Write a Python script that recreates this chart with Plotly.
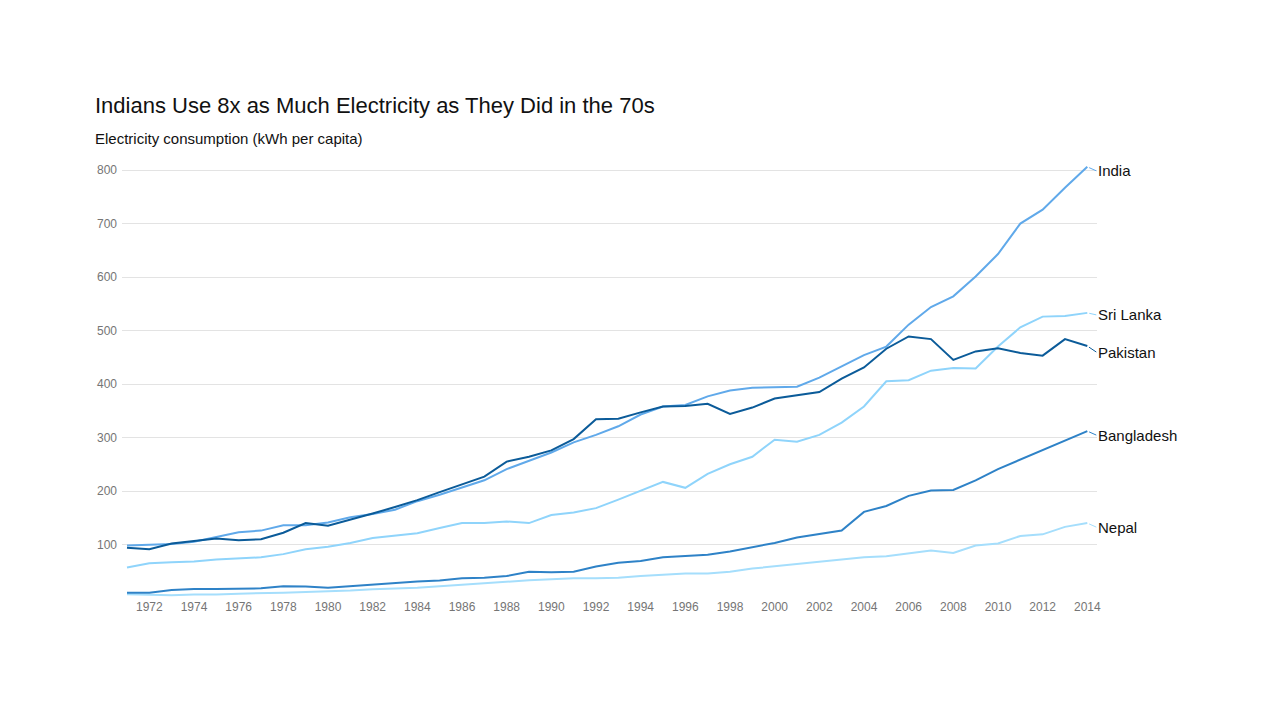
import plotly.graph_objects as go

years = list(range(1971, 2015))

india = [98, 100, 101, 105, 114, 123, 126, 136, 136, 141, 151, 157, 165, 181, 193, 207, 220, 241, 256, 272,
         291, 305, 321, 343, 358, 361, 377, 388, 393, 394, 395, 412, 433, 454, 470, 511, 544, 564, 601, 643,
         700, 726, 767, 806]
pakistan = [94, 91, 102, 107, 111, 108, 110, 122, 140, 135, 146, 158, 170, 183, 198, 213, 227, 255, 264, 276,
            297, 334, 335, 347, 358, 359, 363, 344, 356, 373, 379, 385, 410, 431, 466, 489, 484, 445, 461, 467,
            458, 453, 484, 471]
sri_lanka = [57, 65, 67, 68, 72, 74, 76, 82, 91, 96, 103, 112, 117, 121, 131, 140, 140, 143, 140, 155,
             160, 168, 184, 201, 217, 206, 232, 250, 264, 296, 292, 305, 328, 358, 405, 407, 425, 430, 429, 470,
             506, 526, 527, 533]
bangladesh = [10, 10, 15, 17, 17, 17.7, 18, 22, 21.5, 19, 22, 25, 28, 31, 32.5, 37, 38, 41, 49, 48,
              49, 59, 66, 69, 76, 79, 81, 87, 95, 103, 113, 120, 126, 161, 172, 191, 201, 202, 220, 241,
              259, 276, 294, 312]
nepal = [7, 6.5, 5, 6.5, 6.5, 8, 9.5, 10, 11, 12, 14, 16.5, 18, 19, 22, 25, 28, 30, 33, 35,
         37, 37, 38, 41, 43, 46, 46, 49, 55, 59, 64, 68, 71, 76, 78, 84, 89, 84, 98, 102,
         116, 119, 133, 140]

series_names = ["India", "Sri Lanka", "Pakistan", "Bangladesh", "Nepal"]
series_values = [india, sri_lanka, pakistan, bangladesh, nepal]
colors = ["#60a9ea", "#8fd4fb", "#0b5b99", "#2e82c7", "#a5defc"]
label_shift = [-4, -2, -6, -4, -4]

x_ticks = list(range(1972, 2015, 2))
y_ticks = [100, 200, 300, 400, 500, 600, 700, 800]

title_text = "Indians Use 8x as Much Electricity as They Did in the 70s"
subtitle_text = "Electricity consumption (kWh per capita)"

FONT = "Liberation Sans, Arial, sans-serif"
OFF = 8  # page offset of the plot div

fig = go.Figure()
order = [4, 3, 1, 0, 2]
for i in order:
    fig.add_trace(go.Scatter(
        x=years, y=series_values[i], mode="lines", name=series_names[i],
        line=dict(color=colors[i], width=2), hoverinfo="x+y+name",
    ))

annotations = []
for name, vals, col, sh in zip(series_names, series_values, colors, label_shift):
    annotations.append(dict(
        x=years[-1], y=vals[-1], xref="x", yref="y", text=name,
        showarrow=True, arrowhead=0, arrowwidth=1, arrowcolor=col,
        ax=9, ay=-sh, xanchor="left", yanchor="middle", standoff=2,
        font=dict(family=FONT, size=15, color="#111111"),
    ))

L, T = 122 - OFF, 164 - OFF
pw, ph = 975, 433.8
R, B = 1280 - L - pw, 720 - T - ph


def to_paper(px, py):
    return (px - OFF - L) / pw, 1 - (py - OFF - T) / ph


tx, ty = to_paper(93, 106)
annotations.append(dict(
    x=tx, y=ty, xref="paper", yref="paper", text=title_text,
    showarrow=False, xanchor="left", yanchor="middle",
    font=dict(family=FONT, size=22, color="#111111"),
))
sx, sy = to_paper(93, 139)
annotations.append(dict(
    x=sx, y=sy, xref="paper", yref="paper", text=subtitle_text,
    showarrow=False, xanchor="left", yanchor="middle",
    font=dict(family=FONT, size=15, color="#111111"),
))

fig.update_layout(
    width=1280, height=720,
    margin=dict(l=L, r=R, t=T, b=B),
    paper_bgcolor="white", plot_bgcolor="white",
    showlegend=False,
    annotations=annotations,
    font=dict(family=FONT),
)
fig.update_xaxes(
    range=[1970.776, 2014.434], tickvals=x_ticks, ticktext=[str(t) for t in x_ticks],
    showgrid=False, zeroline=False, showline=False, ticks="",
    tickfont=dict(size=12, color="#757575"),
)
fig.update_yaxes(
    range=[0, 811.3], tickvals=y_ticks, ticktext=[str(t) for t in y_ticks],
    showgrid=True, gridcolor="#e3e3e3", gridwidth=1, zeroline=False, showline=False, ticks="",
    tickfont=dict(size=12, color="#757575"), ticklabelstandoff=4,
)

fig.write_html("out.html")
